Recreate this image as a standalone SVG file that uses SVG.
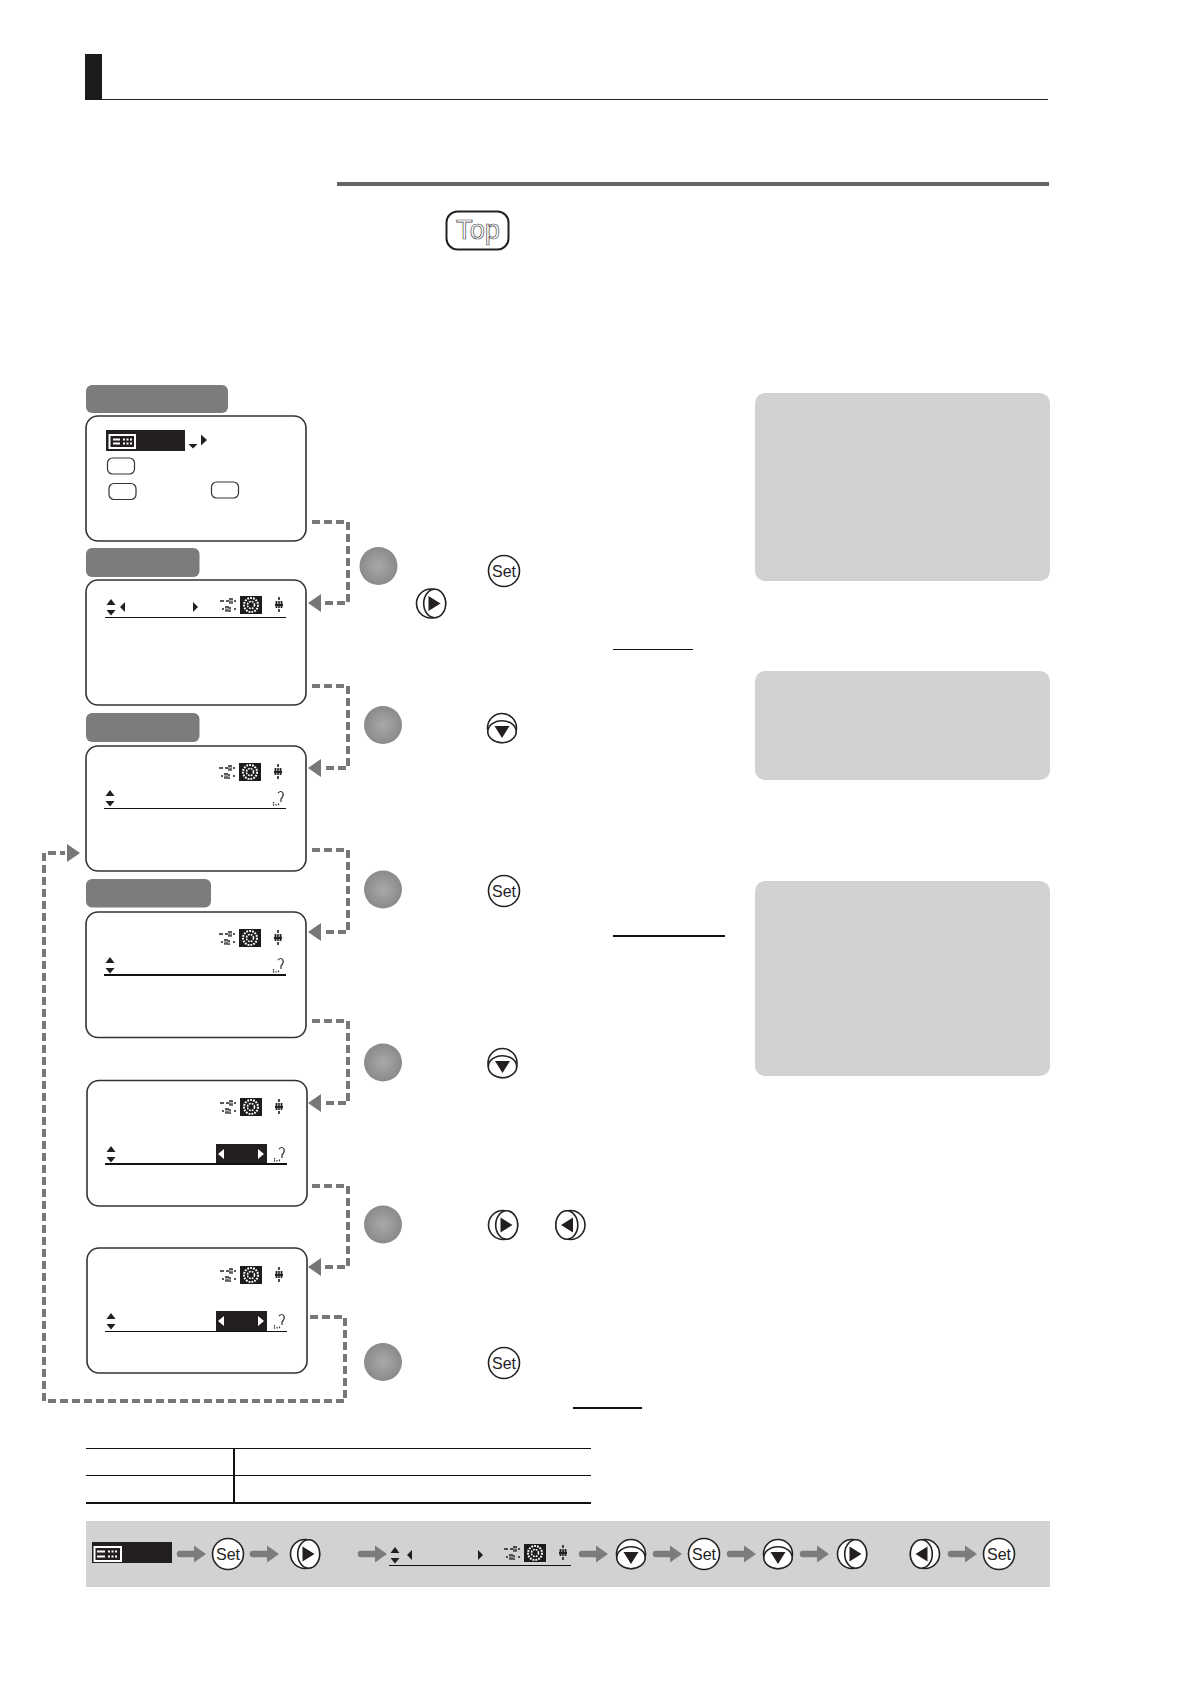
<svg xmlns="http://www.w3.org/2000/svg" xmlns:xlink="http://www.w3.org/1999/xlink" width="1191" height="1684" viewBox="0 0 1191 1684">
<style>
.lcd{fill:#fff;stroke:#333;stroke-width:1.6}
.tag{fill:#7c7c7c}
.panel{fill:#d2d2d2}
.conn{fill:none;stroke:#777;stroke-width:4;stroke-dasharray:8 4}
.step{fill:url(#stepFill)}
.btn{fill:#fff;stroke:#222;stroke-width:1.6}
.btxt{font-family:"Liberation Sans",Arial,sans-serif;font-size:17px;fill:#222;text-anchor:middle}
.key{fill:#fff;stroke:#333;stroke-width:1.2}
.rule{stroke:#111;fill:none}
.blk{fill:#231f20}
.harrow{fill:#7c7c7c}
</style>
<defs>
<radialGradient id="stepFill"><stop offset="0" stop-color="#a9a9a9"/><stop offset="1" stop-color="#8a8a8a"/></radialGradient>
<marker id="head" markerUnits="userSpaceOnUse" markerWidth="18" markerHeight="20" refX="0" refY="10" orient="auto"><path d="M2 1L15 10L2 19Z" fill="#777"/></marker>
<g id="ud"><path d="M-4.500 6L0 0L4.500 6Z" class="blk"/><path d="M-4.500 11L4.500 11L0 16.500Z" class="blk"/></g>
<g id="icons">
<path d="M0 5H4M6 5H9M14 5H16M2 13H4M14 13H16" stroke="#222" stroke-width="1.400" fill="none"/>
<path d="M10 2V8M12 2V8M6 10V16M8 10V16M10 11V16" stroke="#222" stroke-width="1.500" stroke-dasharray="2.500 .8" fill="none"/>
<rect x="20" width="22" height="18" fill="#1d1b1c"/>
<circle cx="31" cy="9" r="7" fill="none" stroke="#fff" stroke-width="2" stroke-dasharray="1.800 1.100"/>
<circle cx="31" cy="9" r="3.500" fill="none" stroke="#fff" stroke-width="1.600" stroke-dasharray="1.800 1"/>
<path d="M59 1V17" stroke="#222" stroke-width="1.600" stroke-dasharray="3 1" fill="none"/>
<path d="M56.500 5V12M61.500 5V12M55 9H63" stroke="#222" stroke-width="1.800" fill="none"/>
</g>
<g id="ask"><path d="M1 2Q4 -1 6 2Q7 5 4 8V11" stroke="#333" stroke-width="1.200" fill="none"/><path d="M-3.500 11V15M-1 13V15M1.500 12.500V15" stroke="#333" stroke-width="1.200" fill="none" stroke-dasharray="1.500 .8"/></g>
<g id="right"><circle r="14.500" class="btn"/><ellipse cx="3.700" rx="11" ry="14.200" class="btn"/><path d="M-2.500 -7.500L9.500 0L-2.500 7.500Z" class="blk"/></g>
<g id="left"><circle r="14.500" class="btn"/><ellipse cx="-3.700" rx="11" ry="14.200" class="btn"/><path d="M2.500 -7.500L-9.500 0L2.500 7.500Z" class="blk"/></g>
<g id="down"><circle r="14.500" class="btn"/><ellipse cy="3.700" rx="14.200" ry="11" class="btn"/><path d="M-7.500 -2L7.500 -2L0 10Z" class="blk"/></g>
<g id="garrow"><path d="M3 0H17" stroke="#7c7c7c" stroke-width="6.500" stroke-linecap="round"/><path d="M17 -8.500L29 0L17 8.500Z" class="harrow"/></g>
</defs>

<g id="header">
<rect x="85" y="54" width="17" height="46" fill="#1d1b1c"/>
<path d="M102 99.500H1048" stroke="#222" stroke-width="1"/>
</g>
<rect id="section-rule" x="337" y="182" width="712" height="4" fill="#666"/>

<g id="top-badge">
<rect x="446.500" y="211.500" width="62" height="38" rx="11" fill="#fff" stroke="#222" stroke-width="2"/>
<text x="456" y="239" font-family="'Liberation Sans',Arial,sans-serif" font-size="28" textLength="44" lengthAdjust="spacingAndGlyphs" fill="#fff" stroke="#444" stroke-width=".7">Top</text>
</g>

<rect id="panel-1" class="panel" x="755" y="393" width="295" height="188" rx="10"/>
<rect id="panel-2" class="panel" x="755" y="671" width="295" height="109" rx="10"/>
<rect id="panel-3" class="panel" x="755" y="881" width="295" height="195" rx="10"/>

<g id="connectors">
<path class="conn" d="M312 522H348V603H323" marker-end="url(#head)"/>
<path class="conn" d="M312 686H348V768H323" marker-end="url(#head)"/>
<path class="conn" d="M312 850H348V932H323" marker-end="url(#head)"/>
<path class="conn" d="M312 1021H348V1103H323" marker-end="url(#head)"/>
<path class="conn" d="M312 1186H348V1267H323" marker-end="url(#head)"/>
<path class="conn" d="M310 1317H345V1401H44V853H65" marker-end="url(#head)"/>
</g>

<g id="screen-1">
<rect class="tag" x="86" y="385" width="142" height="28" rx="6"/>
<rect class="lcd" x="86" y="416" width="220" height="125" rx="12"/>
<rect class="blk" x="106" y="430" width="79" height="21"/>
<rect x="108.500" y="434" width="27.500" height="15" fill="#fff"/>
<rect x="110.500" y="436" width="23.500" height="11" fill="#231f20"/>
<path d="M113 439.500H120M113 443.500H120" stroke="#fff" stroke-width="2"/>
<path d="M123 439.500H132M123 443.500H132" stroke="#fff" stroke-width="2" stroke-dasharray="2 1.500"/>
<path d="M188.500 444H197.500L193 448.500Z" class="blk"/>
<path d="M201 434.500L207 440L201 445.500Z" class="blk"/>
<rect class="key" x="107.500" y="458" width="27" height="16" rx="5"/>
<rect class="key" x="109" y="483.500" width="27" height="16" rx="5"/>
<rect class="key" x="211.500" y="482" width="27" height="16" rx="5"/>
</g>

<g id="screen-2">
<rect class="tag" x="86" y="548" width="113.500" height="29" rx="6"/>
<rect class="lcd" x="86" y="580" width="220" height="125" rx="12"/>
<use href="#ud" x="111" y="599"/>
<path d="M125 602V612L120 607Z" class="blk"/>
<path d="M193 602V612L198 607Z" class="blk"/>
<use href="#icons" x="220" y="596"/>
<path class="rule" d="M105 617.500H286" stroke-width="1"/>
</g>

<g id="screen-3">
<rect class="tag" x="86" y="713" width="113.500" height="29" rx="6"/>
<rect class="lcd" x="86" y="746" width="220" height="125" rx="12"/>
<use href="#icons" x="219" y="763"/>
<use href="#ud" x="110" y="790"/>
<use href="#ask" x="277" y="791"/>
<path class="rule" d="M104 808.500H286" stroke-width="1"/>
</g>

<g id="screen-4">
<rect class="tag" x="86" y="879" width="125" height="28.500" rx="6"/>
<rect class="lcd" x="86" y="912" width="220" height="125.500" rx="12"/>
<use href="#icons" x="219" y="929"/>
<use href="#ud" x="110" y="957"/>
<use href="#ask" x="277" y="958"/>
<path class="rule" d="M104 975H286" stroke-width="2"/>
</g>

<g id="screen-5">
<rect class="lcd" x="87" y="1080.500" width="220" height="125.500" rx="12"/>
<use href="#icons" x="220" y="1098"/>
<use href="#ud" x="111" y="1146"/>
<rect class="blk" x="216" y="1144" width="51" height="20"/>
<path d="M224 1149V1159L218 1154ZM258 1149V1159L264 1154Z" fill="#fff"/>
<use href="#ask" x="278" y="1147"/>
<path class="rule" d="M105 1164H287" stroke-width="2"/>
</g>

<g id="screen-6">
<rect class="lcd" x="87" y="1248" width="220" height="125" rx="12"/>
<use href="#icons" x="220" y="1266"/>
<use href="#ud" x="111" y="1313"/>
<rect class="blk" x="216" y="1311" width="51" height="20"/>
<path d="M224 1316V1326L218 1321ZM258 1316V1326L264 1321Z" fill="#fff"/>
<use href="#ask" x="278" y="1314"/>
<path class="rule" d="M105 1331.500H287" stroke-width="1"/>
</g>

<g id="step-1"><circle class="step" cx="378.500" cy="566" r="19"/>
<g><circle class="btn" cx="504" cy="571" r="15.500"/><text class="btxt" x="504" y="577" textLength="24" lengthAdjust="spacingAndGlyphs">Set</text></g>
<use href="#right" x="431" y="603.500"/></g>
<g id="step-2"><circle class="step" cx="383" cy="725" r="19"/><use href="#down" x="502" y="728"/></g>
<g id="step-3"><circle class="step" cx="383" cy="889.500" r="19"/>
<g><circle class="btn" cx="504" cy="891" r="15.500"/><text class="btxt" x="504" y="897" textLength="24" lengthAdjust="spacingAndGlyphs">Set</text></g></g>
<g id="step-4"><circle class="step" cx="383" cy="1062.500" r="19"/><use href="#down" x="502.500" y="1063"/></g>
<g id="step-5"><circle class="step" cx="383" cy="1224.500" r="19"/><use href="#right" x="503" y="1225"/><use href="#left" x="570.500" y="1225"/></g>
<g id="step-6"><circle class="step" cx="383" cy="1362" r="19"/>
<g><circle class="btn" cx="504" cy="1363" r="15.500"/><text class="btxt" x="504" y="1369" textLength="24" lengthAdjust="spacingAndGlyphs">Set</text></g></g>

<g id="underlines">
<path class="rule" d="M613 649.500H693" stroke-width="1"/>
<path class="rule" d="M613 936H725" stroke-width="2"/>
<path class="rule" d="M573 1408H642" stroke-width="2"/>
</g>

<g id="table">
<path class="rule" d="M86 1448.500H591M86 1475.500H591" stroke-width="1"/>
<path class="rule" d="M86 1503H591" stroke-width="2"/>
<path class="rule" d="M234 1448V1503" stroke-width="2"/>
</g>

<g id="summary-band">
<rect class="panel" x="86" y="1521" width="964" height="66"/>
<rect class="blk" x="92" y="1542" width="80" height="21"/>
<rect x="93.500" y="1546" width="28.500" height="16" fill="#fff"/>
<rect x="95.500" y="1548" width="24.500" height="12" fill="#231f20"/>
<path d="M97 1551.500H105M97 1556.500H105" stroke="#fff" stroke-width="2.200"/>
<path d="M108 1551.500H118M108 1556.500H118" stroke="#fff" stroke-width="2.200" stroke-dasharray="2 1.500"/>
<use href="#garrow" x="177" y="1554"/>
<g><circle class="btn" cx="228" cy="1554" r="15.500"/><text class="btxt" x="228" y="1560" textLength="24" lengthAdjust="spacingAndGlyphs">Set</text></g>
<use href="#garrow" x="250" y="1554"/>
<use href="#right" x="305" y="1554"/>
<use href="#garrow" x="358" y="1554"/>
<use href="#ud" x="395" y="1547"/>
<path d="M412 1550V1560L407 1555Z" class="blk"/>
<path d="M478 1550V1560L483 1555Z" class="blk"/>
<use href="#icons" x="504" y="1544"/>
<path class="rule" d="M389 1565.500H571" stroke-width="1"/>
<use href="#garrow" x="579" y="1554"/>
<use href="#down" x="631" y="1554"/>
<use href="#garrow" x="653" y="1554"/>
<g><circle class="btn" cx="704" cy="1554" r="15.500"/><text class="btxt" x="704" y="1560" textLength="24" lengthAdjust="spacingAndGlyphs">Set</text></g>
<use href="#garrow" x="727" y="1554"/>
<use href="#down" x="778" y="1554"/>
<use href="#garrow" x="800" y="1554"/>
<use href="#right" x="852" y="1554"/>
<use href="#left" x="925" y="1554"/>
<use href="#garrow" x="948" y="1554"/>
<g><circle class="btn" cx="999" cy="1554" r="15.500"/><text class="btxt" x="999" y="1560" textLength="24" lengthAdjust="spacingAndGlyphs">Set</text></g>
</g>
</svg>
